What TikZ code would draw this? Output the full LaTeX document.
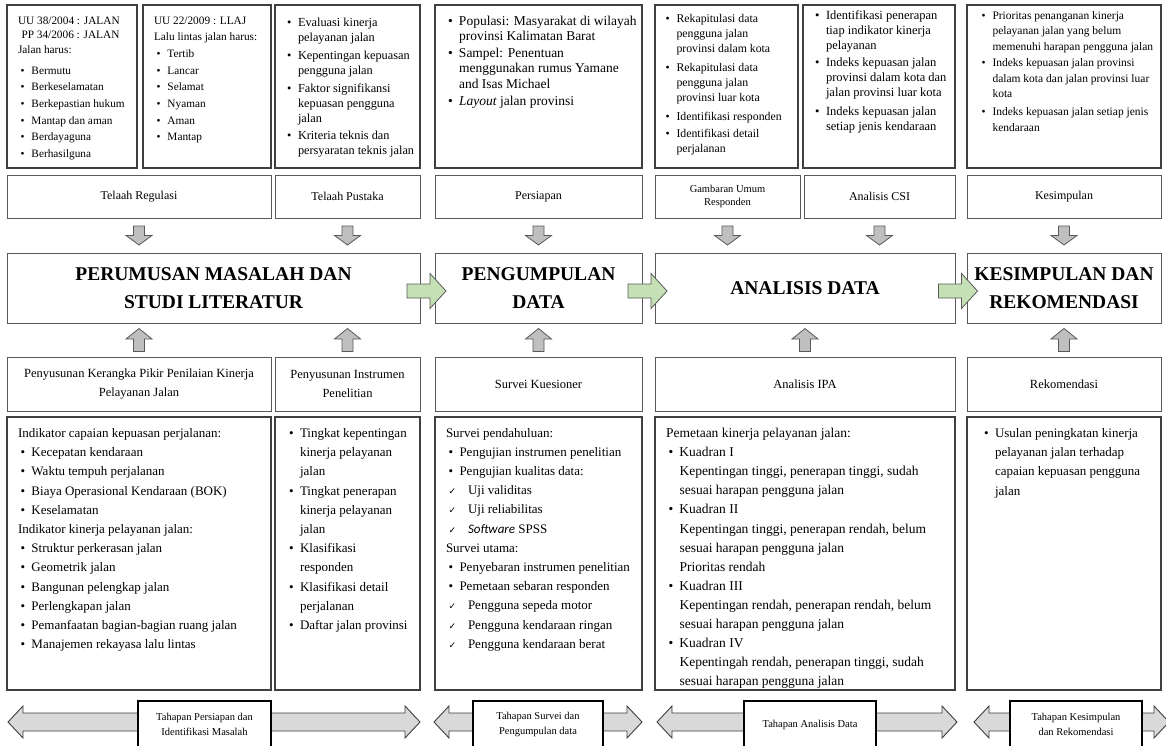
\documentclass[tikz,border=0pt]{standalone}
\usepackage{fontspec}
\setmainfont{Liberation Serif}
\newfontfamily\cekfont{DejaVu Sans}
\newfontfamily\calfont{Carlito}
\usetikzlibrary{positioning,calc}

\definecolor{garis}{HTML}{3F3F3F}
\definecolor{garistipis}{HTML}{595959}
\definecolor{abu}{HTML}{BFBFBF}
\definecolor{abumuda}{HTML}{D9D9D9}
\definecolor{hijau}{HTML}{C5E0B4}

\newcommand{\bul}{\hspace*{2.5pt}\makebox[11pt][l]{\textbullet}}
\newcommand{\ind}{\hspace*{13.5pt}}
\newcommand{\cek}{\hspace*{2.5pt}\makebox[19.5pt][l]{\cekfont\fontsize{9}{9}\selectfont ✓}}
\newcommand{\isi}[5]{\begin{minipage}[t][#2][t]{#1}\raggedright\leftskip=#3\relax\rule{0pt}{#4}#5\end{minipage}}
\newcommand{\ganda}[2]{\draw[panahganda] (#1,722) -- (#1+15,706) -- (#1+15,713) -- (#2-15,713) -- (#2-15,706) -- (#2,722) -- (#2-15,738) -- (#2-15,731) -- (#1+15,731) -- (#1+15,738) -- cycle;}

\begin{document}
\begin{tikzpicture}[x=1pt, y=-1pt,
  isibox/.style={draw=garis, line width=1.1pt, inner sep=0pt, outer sep=0pt, anchor=north west},
  judul/.style={draw=garistipis, line width=0.8pt, inner sep=2pt, outer sep=0pt, minimum height=43pt, align=center, font=\fontsize{12}{14}\selectfont},
  judulbawah/.style={judul, minimum height=54pt, font=\fontsize{12.5}{19}\selectfont},
  utama/.style={draw=garistipis, line width=0.8pt, inner sep=2pt, outer sep=0pt, minimum height=70pt, align=center, font=\bfseries\fontsize{19.5}{28}\selectfont},
  tahapbox/.style={draw=black, line width=1.2pt, fill=white, minimum height=47pt, align=center, font=\fontsize{10.5}{15}\selectfont},
  panahabu/.style={draw=garistipis, line width=0.8pt, fill=abu},
  panahhijau/.style={draw=garistipis, line width=0.8pt, fill=hijau},
  panahganda/.style={draw=garis, line width=0.9pt, fill=abumuda},
  turun/.pic={\draw[panahabu] (-5.5,-9.5) -- (5.5,-9.5) -- (5.5,0) -- (13,0) -- (0,9.5) -- (-13,0) -- (-5.5,0) -- cycle;},
  naik/.pic={\draw[panahabu] (-5.5,11.5) -- (5.5,11.5) -- (5.5,-1) -- (13,-1) -- (0,-11.5) -- (-13,-1) -- (-5.5,-1) -- cycle;},
  kanan/.pic={\draw[panahhijau] (-19.5,-7) -- (3.5,-7) -- (3.5,-17.5) -- (19.5,0) -- (3.5,17.5) -- (3.5,7) -- (-19.5,7) -- cycle;}
]
\useasboundingbox (0,0) rectangle (1166,745);
\fill[white] (0,0) rectangle (1166,745);

% baris atas: isi regulasi dan pustaka
\node[isibox, font=\fontsize{11.3}{14.5}\selectfont] (jalan38) at (7,5) {\isi{130pt}{163pt}{11pt}{19pt}{%
UU 38/2004 : JALAN\\
\hspace*{3.5pt}PP 34/2006 : JALAN\\
Jalan harus:\\[6.5pt]
\bul Bermutu\\[2.2pt]
\bul Berkeselamatan\\[2.2pt]
\bul Berkepastian hukum\\[2.2pt]
\bul Mantap dan aman\\[2.2pt]
\bul Berdayaguna\\[2.2pt]
\bul Berhasilguna}};
\node[isibox, font=\fontsize{11.3}{16.7}\selectfont, right=6pt of jalan38] (llaj22) {\isi{128pt}{163pt}{11pt}{19pt}{%
UU 22/2009 : LLAJ\\
Lalu lintas jalan harus:\\
\bul Tertib\\
\bul Lancar\\
\bul Selamat\\
\bul Nyaman\\
\bul Aman\\
\bul Mantap}};
\node[isibox, font=\fontsize{12.3}{15}\selectfont, right=4pt of llaj22] (kajian) {\isi{145pt}{163pt}{9.5pt}{21pt}{%
\bul Evaluasi kinerja\\
\ind pelayanan jalan\\[3pt]
\bul Kepentingan kepuasan\\
\ind pengguna jalan\\[3pt]
\bul Faktor signifikansi\\
\ind kepuasan pengguna\\
\ind jalan\\[2pt]
\bul Kriteria teknis dan\\
\ind persyaratan teknis jalan}};
\node[isibox, font=\fontsize{13.5}{15.3}\selectfont, right=15pt of kajian] (populasi) {\isi{207pt}{163pt}{10.5pt}{20.5pt}{%
\bul Populasi: Masyarakat di wilayah\\
\ind provinsi Kalimatan Barat\\[1.5pt]
\bul Sampel: Penentuan\\
\ind menggunakan rumus Yamane\\
\ind and Isas Michael\\[2pt]
\bul \textit{Layout} jalan provinsi}};
\node[isibox, font=\fontsize{11.8}{15}\selectfont, right=13pt of populasi] (rekap) {\isi{143pt}{163pt}{8pt}{17pt}{%
\bul Rekapitulasi data\\
\ind pengguna jalan\\
\ind provinsi dalam kota\\[4pt]
\bul Rekapitulasi data\\
\ind pengguna jalan\\
\ind provinsi luar kota\\[4pt]
\bul Identifikasi responden\\[2pt]
\bul Identifikasi detail\\
\ind perjalanan}};
\node[isibox, font=\fontsize{12.5}{15}\selectfont, right=5pt of rekap] (identif) {\isi{152pt}{163pt}{9.5pt}{14.5pt}{%
\bul Identifikasi penerapan\\
\ind tiap indikator kinerja\\
\ind pelayanan\\[2pt]
\bul Indeks kepuasan jalan\\
\ind provinsi dalam kota dan\\
\ind jalan provinsi luar kota\\[4pt]
\bul Indeks kepuasan jalan\\
\ind setiap jenis kendaraan}};
\node[isibox, font=\fontsize{11.5}{15.5}\selectfont, right=12pt of identif] (prioritas) {\isi{194pt}{163pt}{12pt}{14pt}{%
\bul Prioritas penanganan kinerja\\
\ind pelayanan jalan yang belum\\
\ind memenuhi harapan pengguna jalan\\[1pt]
\bul Indeks kepuasan jalan provinsi\\
\ind dalam kota dan jalan provinsi luar\\
\ind kota\\[2.5pt]
\bul Indeks kepuasan jalan setiap jenis\\
\ind kendaraan}};

% baris judul atas
\node[judul, minimum width=264pt, below=7pt of jalan38.south west, anchor=north west] (telaahReg) {Telaah Regulasi};
\node[judul, minimum width=145pt, right=4pt of telaahReg] (telaahPus) {Telaah Pustaka};
\node[judul, minimum width=207pt, right=15pt of telaahPus] (persiapan) {Persiapan};
\node[judul, minimum width=145pt, right=13pt of persiapan, font=\fontsize{10.5}{13}\selectfont] (gambaran) {Gambaran Umum\\Responden};
\node[judul, minimum width=151pt, right=4pt of gambaran] (csi) {Analisis CSI};
\node[judul, minimum width=194pt, right=12pt of csi] (kesimpulan) {Kesimpulan};

% tahapan utama
\node[utama, minimum width=413pt, below=35pt of telaahReg.south west, anchor=north west] (rumusan) {PERUMUSAN MASALAH DAN\\STUDI LITERATUR};
\node[utama, minimum width=207pt, right=15pt of rumusan] (kumpul) {PENGUMPULAN\\DATA};
\node[utama, minimum width=300pt, right=13pt of kumpul] (analisis) {ANALISIS DATA};
\node[utama, minimum width=194pt, right=12pt of analisis] (simpulan) {KESIMPULAN DAN\\REKOMENDASI};

% baris judul bawah
\node[judulbawah, minimum width=264pt, below=34pt of rumusan.south west, anchor=north west] (kerangka) {Penyusunan Kerangka Pikir Penilaian Kinerja\\Pelayanan Jalan};
\node[judulbawah, minimum width=145pt, right=4pt of kerangka] (instrumen) {Penyusunan Instrumen\\Penelitian};
\node[judulbawah, minimum width=207pt, right=15pt of instrumen] (kuesioner) {Survei Kuesioner};
\node[judulbawah, minimum width=300pt, right=13pt of kuesioner] (ipa) {Analisis IPA};
\node[judulbawah, minimum width=194pt, right=12pt of ipa] (rekomendasi) {Rekomendasi};

% baris isi bawah
\node[isibox, font=\fontsize{13}{19.2}\selectfont, below=6pt of kerangka.south west, anchor=north west] (indikator) {\isi{264pt}{273pt}{11pt}{20.5pt}{%
Indikator capaian kepuasan perjalanan:\\
\bul Kecepatan kendaraan\\
\bul Waktu tempuh perjalanan\\
\bul Biaya Operasional Kendaraan (BOK)\\
\bul Keselamatan\\
Indikator kinerja pelayanan jalan:\\
\bul Struktur perkerasan jalan\\
\bul Geometrik jalan\\
\bul Bangunan pelengkap jalan\\
\bul Perlengkapan jalan\\
\bul Pemanfaatan bagian-bagian ruang jalan\\
\bul Manajemen rekayasa lalu lintas}};
\node[isibox, font=\fontsize{13}{19.2}\selectfont, right=4pt of indikator] (tingkat) {\isi{145pt}{273pt}{11.5pt}{20.5pt}{%
\bul Tingkat kepentingan\\
\ind kinerja pelayanan\\
\ind jalan\\
\bul Tingkat penerapan\\
\ind kinerja pelayanan\\
\ind jalan\\
\bul Klasifikasi\\
\ind responden\\
\bul Klasifikasi detail\\
\ind perjalanan\\
\bul Daftar jalan provinsi}};
\node[isibox, font=\fontsize{13}{19.2}\selectfont, right=15pt of tingkat] (survei) {\isi{207pt}{273pt}{11pt}{20pt}{%
Survei pendahuluan:\\
\bul Pengujian instrumen penelitian\\
\bul Pengujian kualitas data:\\
\cek Uji validitas\\
\cek Uji reliabilitas\\
\cek {\calfont\itshape Software} SPSS\\
Survei utama:\\
\bul Penyebaran instrumen penelitian\\
\bul Pemetaan sebaran responden\\
\cek Pengguna sepeda motor\\
\cek Pengguna kendaraan ringan\\
\cek Pengguna kendaraan berat}};
\node[isibox, font=\fontsize{13.5}{19.1}\selectfont, right=13pt of survei] (pemetaan) {\isi{300pt}{273pt}{11pt}{20.5pt}{%
Pemetaan kinerja pelayanan jalan:\\
\bul Kuadran I\\
\ind Kepentingan tinggi, penerapan tinggi, sudah\\
\ind sesuai harapan pengguna jalan\\
\bul Kuadran II\\
\ind Kepentingan tinggi, penerapan rendah, belum\\
\ind sesuai harapan pengguna jalan\\
\ind Prioritas rendah\\
\bul Kuadran III\\
\ind Kepentingan rendah, penerapan rendah, belum\\
\ind sesuai harapan pengguna jalan\\
\bul Kuadran IV\\
\ind Kepentingah rendah, penerapan tinggi, sudah\\
\ind sesuai harapan pengguna jalan}};
\node[isibox, font=\fontsize{13}{19.2}\selectfont, right=12pt of pemetaan] (usulan) {\isi{194pt}{273pt}{14.5pt}{20.5pt}{%
\bul Usulan peningkatan kinerja\\
\ind pelayanan jalan terhadap\\
\ind capaian kepuasan pengguna\\
\ind jalan}};

% panah abu-abu ke tahapan utama
\pic at ($(telaahReg.south)!.5!(telaahReg.south|-rumusan.north)$) {turun};
\pic at ($(telaahPus.south)!.5!(telaahPus.south|-rumusan.north)$) {turun};
\pic at ($(persiapan.south)!.5!(persiapan.south|-kumpul.north)$) {turun};
\pic at ($(gambaran.south)!.5!(gambaran.south|-analisis.north)$) {turun};
\pic at ($(csi.south)!.5!(csi.south|-analisis.north)$) {turun};
\pic at ($(kesimpulan.south)!.5!(kesimpulan.south|-simpulan.north)$) {turun};
\pic at ($(kerangka.north)!.5!(kerangka.north|-rumusan.south)$) {naik};
\pic at ($(instrumen.north)!.5!(instrumen.north|-rumusan.south)$) {naik};
\pic at ($(kuesioner.north)!.5!(kuesioner.north|-kumpul.south)$) {naik};
\pic at ($(ipa.north)!.5!(ipa.north|-analisis.south)$) {naik};
\pic at ($(rekomendasi.north)!.5!(rekomendasi.north|-simpulan.south)$) {naik};

% panah hijau antar tahapan
\pic at ($(rumusan.east)!.5!(kumpul.west)+(-1,3)$) {kanan};
\pic at ($(kumpul.east)!.5!(analisis.west)+(-1,3)$) {kanan};
\pic at ($(analisis.east)!.5!(simpulan.west)+(-3,3)$) {kanan};

% panah tahapan
\ganda{8}{420}
\node[tahapbox, minimum width=133pt] (tahap1) at (204.5,724.5) {Tahapan Persiapan dan\\Identifikasi Masalah};
\ganda{434}{642}
\node[tahapbox, minimum width=130pt] (tahap2) at (538,724.5) {Tahapan Survei dan\\Pengumpulan data};
\ganda{657}{957}
\node[tahapbox, minimum width=132pt] (tahap3) at (810,724.5) {Tahapan Analisis Data};
\ganda{974}{1169}
\node[tahapbox, minimum width=132pt] (tahap4) at (1076,724.5) {Tahapan Kesimpulan\\dan Rekomendasi};
\end{tikzpicture}
\end{document}
